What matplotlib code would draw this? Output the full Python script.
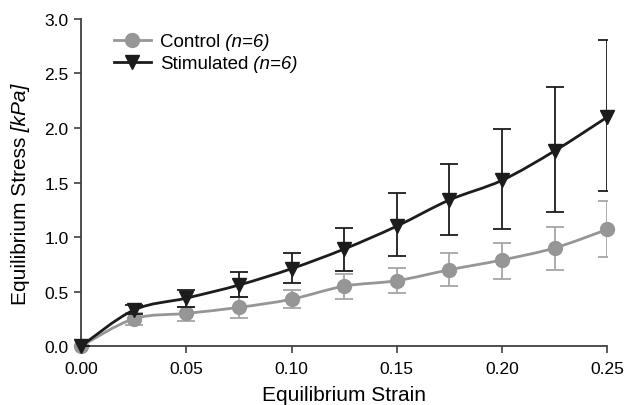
import numpy as np
import matplotlib
matplotlib.use("Agg")
import matplotlib.pyplot as plt
from matplotlib.path import Path
from matplotlib.patches import PathPatch
from matplotlib.lines import Line2D

plt.rcParams['font.family'] = ['Liberation Sans', 'DejaVu Sans']

# data
strain = [0.0, 0.025, 0.05, 0.075, 0.10, 0.125, 0.15, 0.175, 0.20, 0.225, 0.25]
control = [0.0, 0.25, 0.30, 0.355, 0.43, 0.55, 0.60, 0.70, 0.79, 0.90, 1.07]
control_hi = [0.0, 0.30, 0.36, 0.45, 0.51, 0.66, 0.72, 0.85, 0.95, 1.09, 1.33]
control_lo = [0.0, 0.19, 0.23, 0.26, 0.35, 0.43, 0.49, 0.55, 0.62, 0.70, 0.82]
stim = [0.0, 0.33, 0.44, 0.56, 0.71, 0.89, 1.10, 1.34, 1.52, 1.79, 2.10]
stim_hi = [0.0, 0.38, 0.51, 0.68, 0.85, 1.08, 1.40, 1.67, 1.99, 2.38, 2.81]
stim_lo = [0.0, 0.29, 0.36, 0.45, 0.58, 0.69, 0.83, 1.02, 1.07, 1.23, 1.42]
names = ['Control', 'Stimulated']
n_note = ' (n=6)'

c_gray = '#969696'
c_gray_err = '#a6a6a6'
c_dark = '#1c1c1c'


def smooth_path(x, y):
    # catmull-rom style bezier through the points (like a spreadsheet "smoothed line")
    x = np.asarray(x, float)
    y = np.asarray(y, float)
    verts = [(x[0], y[0])]
    codes = [Path.MOVETO]
    n = len(x)
    for i in range(n - 1):
        p0 = np.array([x[max(i - 1, 0)], y[max(i - 1, 0)]])
        p1 = np.array([x[i], y[i]])
        p2 = np.array([x[i + 1], y[i + 1]])
        p3 = np.array([x[min(i + 2, n - 1)], y[min(i + 2, n - 1)]])
        c1 = p1 + (p2 - p0) / 6.0
        c2 = p2 - (p3 - p1) / 6.0
        verts += [tuple(c1), tuple(c2), tuple(p2)]
        codes += [Path.CURVE4] * 3
    return Path(verts, codes)


fig = plt.figure(figsize=(6.28, 4.06), dpi=100)
ax = fig.add_axes([0.129, 0.145, 0.838, 0.806])

for yv, lo, hi, col, ecol, mk, z in [
        (control, control_lo, control_hi, c_gray, c_gray_err, 'o', 2),
        (stim, stim_lo, stim_hi, c_dark, c_dark, 'v', 3)]:
    yv = np.array(yv)
    err = [yv - np.array(lo), np.array(hi) - yv]
    ax.errorbar(strain, yv, yerr=err, fmt='none', ecolor=ecol, elinewidth=1.3,
                capsize=6.5, capthick=1.3, zorder=z)
    ax.add_patch(PathPatch(smooth_path(strain, yv), facecolor='none',
                           edgecolor=col, lw=2, zorder=z + 0.1, clip_on=False))
    ax.plot(strain, yv, linestyle='none', marker=mk, color=col, markersize=10,
            zorder=z + 0.2, clip_on=False)

ax.set_xlim(0, 0.25)
ax.set_ylim(0, 3.0)
ax.set_xticks(np.arange(0, 0.2501, 0.05))
ax.set_xticklabels(['0.00', '0.05', '0.10', '0.15', '0.20', '0.25'])
ax.set_yticks(np.arange(0, 3.01, 0.5))
ax.set_yticklabels(['0.0', '0.5', '1.0', '1.5', '2.0', '2.5', '3.0'])

for s in ['top', 'right']:
    ax.spines[s].set_visible(False)
for s in ['left', 'bottom']:
    ax.spines[s].set_color('#404040')
    ax.spines[s].set_linewidth(1.3)
ax.tick_params(direction='out', length=5, width=1.2, color='#404040',
               labelsize=12.5)
ax.tick_params(axis='x', pad=6)
ax.tick_params(axis='y', pad=4)

ax.set_xlabel('Equilibrium Strain', fontsize=15)
ax.xaxis.set_label_coords(0.5, -0.12)
ylab = ax.set_ylabel('Equilibrium Stress', fontsize=15)
ax.yaxis.set_label_coords(-0.097, 0.385)
ax.annotate(' [kPa]', xy=(0.5, 1), xycoords=ylab, rotation=90, ha='center',
            va='bottom', fontsize=15, style='italic')

handles = [Line2D([], [], color=c_gray, lw=2, marker='o', markersize=10),
           Line2D([], [], color=c_dark, lw=2, marker='v', markersize=10)]
leg = ax.legend(handles, names, loc='upper left', bbox_to_anchor=(0.03, 1.008),
                frameon=False, fontsize=13.5, handlelength=2.0,
                handletextpad=0.45, labelspacing=0.25)
for t in leg.get_texts():
    # drawn after the legend so the label position is known
    ax.annotate(n_note, xy=(1, 0), xycoords=t, ha='left', va='bottom',
                fontsize=13.5, style='italic', zorder=10)

fig.savefig('out.png', dpi=100)
